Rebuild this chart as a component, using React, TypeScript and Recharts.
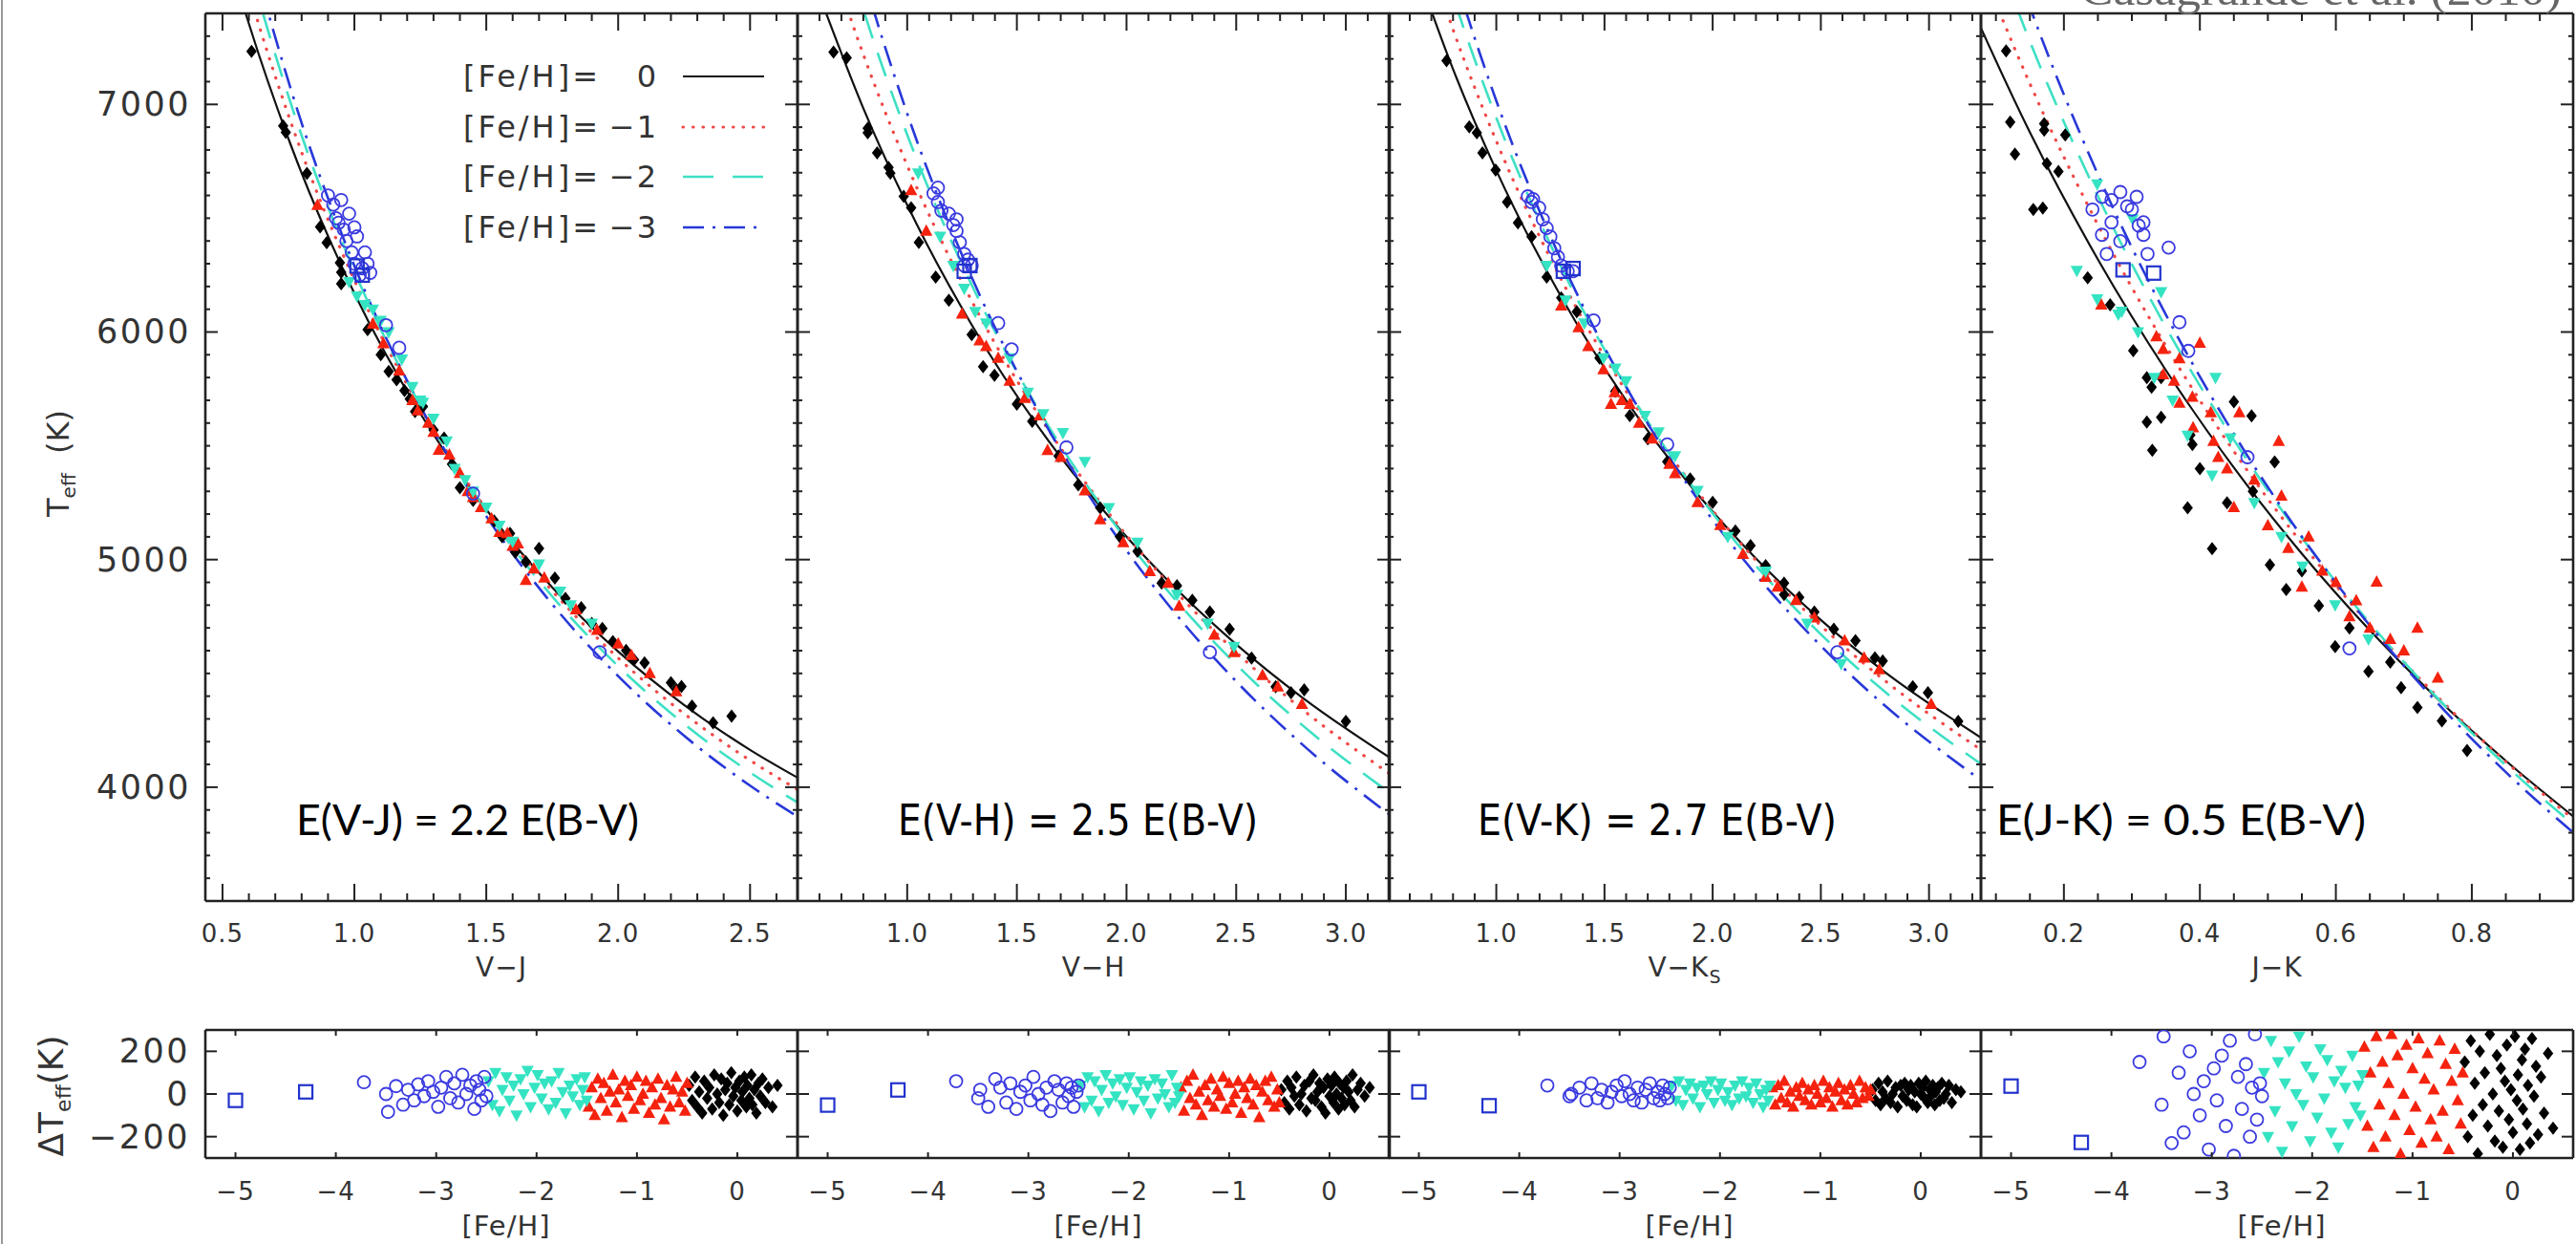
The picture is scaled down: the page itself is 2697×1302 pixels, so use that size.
import React from 'react';
import { ComposedChart, XAxis, YAxis, Line, Scatter } from 'recharts';

// ---------- fitted relations (Teff vs colour, [Fe/H] = 0, -1, -2, -3)
const vjX = [0.5, 0.6, 0.75, 1.0, 1.25, 1.5, 1.75, 2.0, 2.25, 2.5, 2.68];
const vjT0 = [7747, 7355, 6849, 6170, 5642, 5220, 4878, 4596, 4361, 4164, 4042];
const vjT1 = [7922, 7497, 6952, 6227, 5667, 5222, 4863, 4568, 4323, 4118, 3990];
const vjT2 = [8077, 7620, 7036, 6267, 5677, 5213, 4838, 4532, 4278, 4065, 3933];
const vjT3 = [8208, 7720, 7101, 6291, 5674, 5191, 4804, 4488, 4226, 4007, 3871];

const vhX = [0.6, 0.8, 1.0, 1.3, 1.6, 1.9, 2.2, 2.5, 2.8, 3.2];
const vhT0 = [7478, 6983, 6558, 6022, 5581, 5211, 4897, 4628, 4395, 4130];
const vhT1 = [7793, 7219, 6732, 6126, 5634, 5227, 4885, 4593, 4343, 4059];
const vhT2 = [8071, 7416, 6867, 6195, 5657, 5216, 4849, 4539, 4274, 3975];
const vhT3 = [8301, 7566, 6960, 6228, 5648, 5178, 4790, 4465, 4189, 3879];

const vkX = [0.6, 0.8, 1.0, 1.3, 1.6, 1.9, 2.2, 2.5, 2.8, 3.24];
const vkT0 = [7678, 7155, 6710, 6154, 5699, 5322, 5005, 4735, 4503, 4218];
const vkT1 = [7911, 7329, 6839, 6231, 5740, 5335, 4997, 4710, 4465, 4165];
const vkT2 = [8116, 7476, 6941, 6285, 5760, 5330, 4973, 4672, 4416, 4102];
const vkT3 = [8289, 7593, 7016, 6315, 5759, 5307, 4934, 4621, 4355, 4031];

const jkX = [0.05, 0.15, 0.25, 0.35, 0.45, 0.55, 0.65, 0.75, 0.85, 0.95];
const jkT0 = [7520, 6877, 6319, 5832, 5404, 5026, 4689, 4387, 4116, 3870];
const jkT1 = [7819, 7091, 6471, 5939, 5476, 5071, 4713, 4396, 4112, 3858];
const jkT2 = [8088, 7277, 6597, 6021, 5526, 5096, 4721, 4390, 4096, 3834];
const jkT3 = [8321, 7428, 6692, 6076, 5552, 5101, 4710, 4368, 4066, 3798];

// ---------- stars in the top panels: [colour, Teff]
const vjBlack = [[0.61,7233],[0.73,6906],[0.74,6877],[0.82,6697],[0.87,6462],[0.895,6392],[0.945,6304],[0.95,6262],[0.95,6212],[1.05,6010],[1.1,5900],[1.13,5827],[1.16,5790],[1.19,5743],[1.21,5706],[1.23,5650],[1.26,5672],[1.3,5570],[1.34,5534],[1.37,5420],[1.4,5316],[1.45,5260],[1.53,5170],[1.56,5100],[1.59,5115],[1.61,5032],[1.65,4990],[1.7,5049],[1.76,4919],[1.8,4830],[1.86,4789],[1.9,4720],[1.94,4697],[1.98,4640],[2.03,4601],[2.06,4560],[2.1,4546],[2.2,4459],[2.22,4430],[2.24,4442],[2.28,4356],[2.36,4283],[2.43,4312]];
const vjRed = [[0.86,6557],[1.07,6036],[1.11,5950],[1.17,5830],[1.22,5700],[1.24,5655],[1.28,5600],[1.3,5560],[1.32,5482],[1.36,5460],[1.4,5380],[1.43,5300],[1.45,5274],[1.48,5230],[1.52,5180],[1.55,5120],[1.58,5115],[1.6,5060],[1.62,5070],[1.65,4910],[1.68,4960],[1.72,4920],[1.84,4780],[1.92,4690],[2.0,4630],[2.05,4580],[2.12,4500],[2.22,4420]];
const vjCyan = [[0.98,6220],[1.01,6157],[1.04,6120],[1.07,6100],[1.1,6050],[1.13,6000],[1.18,5880],[1.22,5760],[1.25,5700],[1.26,5690],[1.3,5620],[1.35,5520],[1.38,5400],[1.42,5350],[1.45,5300],[1.5,5230],[1.55,5150],[1.6,5080],[1.7,4980],[1.78,4860],[1.82,4800],[1.9,4720]];
const vjBlue = [[0.9,6600],[0.92,6560],[0.93,6500],[0.94,6480],[0.95,6580],[0.96,6450],[0.97,6400],[0.98,6520],[0.99,6350],[1.0,6300],[1.0,6460],[1.01,6420],[1.02,6250],[1.03,6280],[1.04,6350],[1.05,6300],[1.06,6260],[1.12,6030],[1.17,5931],[1.45,5290],[1.93,4593]];
const vjSq = [[1.01,6290],[1.03,6250]];

const vhBlack = [[0.664,7230],[0.724,7205],[0.82,6875],[0.82,6895],[0.863,6787],[0.915,6723],[0.923,6698],[0.984,6596],[1.018,6546],[1.053,6394],[1.13,6241],[1.19,6140],[1.294,5988],[1.346,5848],[1.398,5810],[1.5,5683],[1.57,5607],[1.69,5455],[1.78,5328],[1.88,5227],[1.97,5100],[2.05,5037],[2.16,4897],[2.23,4885],[2.3,4821],[2.38,4770],[2.47,4694],[2.57,4567],[2.68,4441],[2.75,4415],[2.81,4428],[3.0,4289]];
const vhRed = [[1.018,6622],[1.087,6444],[1.25,6080],[1.33,5962],[1.36,5937],[1.415,5886],[1.467,5785],[1.536,5709],[1.605,5633],[1.64,5480],[1.7,5450],[1.81,5303],[1.88,5176],[1.985,5075],[2.106,4948],[2.19,4897],[2.24,4796],[2.4,4669],[2.49,4593],[2.62,4492],[2.69,4441],[2.8,4365]];
const vhCyan = [[1.05,6698],[1.15,6420],[1.21,6292],[1.26,6191],[1.31,6089],[1.36,6039],[1.467,5886],[1.55,5734],[1.62,5640],[1.71,5557],[1.81,5430],[1.92,5227],[2.05,5075],[2.23,4847],[2.37,4720],[2.49,4618]];
const vhBlue = [[1.12,6609],[1.14,6571],[1.14,6634],[1.156,6533],[1.19,6520],[1.21,6470],[1.225,6444],[1.225,6495],[1.24,6394],[1.26,6343],[1.26,6292],[1.277,6318],[1.294,6292],[1.415,6039],[1.476,5924],[1.726,5493],[2.38,4593]];
const vhSq = [[1.286,6292],[1.26,6267]];

const vkBlack = [[0.77,7192],[0.875,6901],[0.91,6875],[0.936,6787],[0.997,6711],[1.05,6571],[1.1,6480],[1.163,6419],[1.233,6241],[1.3,6150],[1.372,6089],[1.477,5886],[1.55,5740],[1.617,5633],[1.7,5531],[1.79,5430],[1.896,5354],[2.0,5252],[2.105,5126],[2.175,5062],[2.245,4973],[2.33,4897],[2.33,4847],[2.4,4834],[2.47,4770],[2.56,4694],[2.66,4644],[2.75,4568],[2.786,4555],[2.925,4441],[2.995,4415],[3.135,4289]];
const vkRed = [[1.3,6115],[1.38,6020],[1.425,5937],[1.495,5835],[1.53,5683],[1.547,5734],[1.58,5700],[1.617,5683],[1.66,5600],[1.72,5531],[1.8,5420],[1.826,5379],[1.93,5252],[2.035,5151],[2.14,5024],[2.245,4923],[2.3,4880],[2.385,4821],[2.47,4745],[2.61,4644],[2.7,4568],[2.77,4517],[3.01,4365]];
const vkCyan = [[1.233,6292],[1.32,6140],[1.407,6039],[1.495,5886],[1.55,5840],[1.6,5785],[1.687,5633],[1.75,5560],[1.826,5455],[1.93,5303],[2.07,5100],[2.245,4948],[2.437,4720],[2.594,4542]];
const vkBlue = [[1.146,6596],[1.163,6571],[1.17,6584],[1.198,6546],[1.215,6495],[1.233,6457],[1.25,6419],[1.268,6368],[1.285,6330],[1.3,6292],[1.33,6267],[1.355,6267],[1.45,6051],[1.79,5506],[2.576,4593]];
const vkSq = [[1.31,6267],[1.355,6279]];

const jkBlack = [[0.115,7235],[0.121,6922],[0.128,6782],[0.155,6538],[0.169,6545],[0.171,6915],[0.171,6887],[0.175,6740],[0.192,6705],[0.202,6866],[0.235,6238],[0.268,6120],[0.302,5918],[0.322,5799],[0.329,5757],[0.322,5604],[0.343,5625],[0.343,5799],[0.386,5548],[0.389,5506],[0.45,5694],[0.476,5632],[0.51,5429],[0.33,5480],[0.382,5228],[0.418,5048],[0.478,5300],[0.503,4977],[0.527,4869],[0.575,4797],[0.599,4618],[0.648,4509],[0.696,4437],[0.756,4291],[0.793,4161],[0.4,5400],[0.44,5250],[0.55,4950],[0.62,4700],[0.68,4550],[0.72,4350]];
const jkRed = [[0.255,6120],[0.336,5980],[0.346,5924],[0.37,5883],[0.4,5952],[0.362,5785],[0.389,5715],[0.346,5813],[0.37,5688],[0.416,5646],[0.458,5646],[0.427,5450],[0.516,5520],[0.45,5230],[0.48,5350],[0.44,5400],[0.5,5150],[0.52,5280],[0.53,5050],[0.55,4880],[0.56,5100],[0.58,4950],[0.6,4900],[0.62,4750],[0.63,4820],[0.65,4700],[0.66,4902],[0.68,4650],[0.7,4600],[0.72,4700],[0.75,4480],[0.39,5580],[0.42,5520]];
const jkCyan = [[0.219,6270],[0.249,6145],[0.249,6650],[0.285,6090],[0.301,6496],[0.309,6000],[0.333,5800],[0.343,6176],[0.382,5545],[0.418,5370],[0.423,5799],[0.445,5534],[0.551,4970],[0.599,4800],[0.648,4650],[0.28,6078],[0.36,5700],[0.48,5250],[0.52,5100]];
const jkBlue = [[0.256,6594],[0.27,6580],[0.283,6615],[0.307,6594],[0.242,6538],[0.3,6538],[0.27,6482],[0.31,6468],[0.256,6427],[0.283,6399],[0.317,6427],[0.354,6371],[0.263,6343],[0.323,6343],[0.317,6482],[0.293,6552],[0.37,6043],[0.383,5917],[0.62,4610],[0.47,5450]];
const jkSq = [[0.287,6273],[0.332,6259]];

// ---------- residuals (bottom panels): shared [Fe/H], one dTeff list per colour
const fehBlack = [-0.48,-0.45,-0.42,-0.4,-0.38,-0.35,-0.33,-0.3,-0.28,-0.25,-0.23,-0.2,-0.18,-0.16,-0.14,-0.12,-0.1,-0.08,-0.06,-0.04,-0.02,0,0.02,0.04,0.05,0.07,0.09,0.1,0.12,0.14,0.15,0.17,0.19,0.21,0.23,0.25,0.28,0.31,0.35,0.4];
const fehRed = [-1.48,-1.45,-1.42,-1.39,-1.36,-1.33,-1.3,-1.27,-1.24,-1.21,-1.18,-1.15,-1.12,-1.09,-1.06,-1.03,-1.0,-0.97,-0.94,-0.91,-0.88,-0.85,-0.82,-0.79,-0.76,-0.73,-0.7,-0.67,-0.64,-0.61,-0.58,-0.55,-0.52,-0.5];
const fehCyan = [-2.48,-2.44,-2.41,-2.37,-2.34,-2.3,-2.27,-2.23,-2.2,-2.16,-2.13,-2.09,-2.06,-2.02,-1.99,-1.95,-1.92,-1.88,-1.85,-1.81,-1.78,-1.74,-1.71,-1.67,-1.64,-1.6,-1.57,-1.54,-1.52,-1.5];
const fehBlue = [-3.72,-3.5,-3.48,-3.4,-3.33,-3.28,-3.22,-3.18,-3.12,-3.08,-3.03,-2.98,-2.95,-2.9,-2.86,-2.82,-2.78,-2.74,-2.7,-2.66,-2.62,-2.6,-2.57,-2.55,-2.52,-2.5];
const fehSq = [-5.0, -4.3];

const dVJ = {
  black: [40,-30,80,-60,10,-90,60,-20,30,-70,90,0,-40,70,-100,20,50,-50,100,-10,30,-80,60,-30,10,80,-60,40,-20,90,-50,20,-90,50,-10,70,-40,30,-60,40],
  red: [-60,30,-100,70,-20,50,-80,10,90,-40,20,-110,60,-10,40,-70,80,-30,0,60,-90,30,-50,70,-20,-120,40,-60,20,80,-40,10,-80,50],
  cyan: [60,-50,100,-80,20,80,-30,40,-100,70,0,110,-60,30,90,-20,50,-70,60,-40,100,10,-90,40,-10,70,-50,20,80,-30],
  blue: [55,0,-84,37,-50,20,-30,45,-10,60,10,-60,30,80,-20,50,-40,90,0,40,-70,60,20,-30,80,-10],
  sq: [-30, 10],
};
const dVH = {
  black: [20,-40,60,-70,30,-10,80,-50,0,40,-80,60,-20,90,-30,10,50,-60,30,-90,70,-10,40,-40,80,0,-70,50,-20,30,-50,60,10,-30,90,-60,20,50,-10,30],
  red: [30,-80,60,-20,90,-50,10,-100,40,-30,70,-60,20,-10,80,-70,50,-40,0,60,-90,30,-20,70,-50,40,-110,10,60,-30,80,-60,20,-40],
  cyan: [40,-60,80,-30,60,-80,20,90,-40,50,-10,70,-50,30,80,-70,10,60,-30,40,-90,70,-20,50,0,-60,90,-40,30,-10],
  blue: [60,-20,20,-60,70,30,-40,50,-70,10,40,-30,80,0,-50,30,-80,60,20,-40,50,-10,30,-60,10,40],
  sq: [-52, 19],
};
const dVK = {
  black: [20,-30,50,-50,10,-20,60,-40,0,30,-60,40,-10,50,-30,20,40,-50,10,-60,50,0,30,-20,60,-40,20,-10,40,-50,10,30,-30,50,-20,0,40,-40,20,10],
  red: [30,-50,40,-20,60,-40,10,-60,30,-10,50,-30,20,-50,40,0,-40,60,-20,30,-60,10,50,-30,20,-50,40,0,-40,60,-20,30,-10,20],
  cyan: [40,-30,60,-50,20,50,-20,30,-60,40,0,60,-40,20,50,-30,10,-50,40,-20,60,-10,30,-40,50,0,-60,20,-30,40],
  blue: [40,-10,0,30,-30,50,-20,20,-40,10,40,-10,60,0,-30,30,-40,20,50,-20,10,-30,40,0,-20,30],
  sq: [10, -55],
};
const dJK = {
  black: [150,-200,250,-100,50,-280,200,-50,100,-150,280,0,-220,180,-80,120,-250,60,230,-120,20,-180,270,-30,90,-260,160,-70,210,-140,40,-230,260,-10,130,-190,80,-90,190,-160],
  red: [220,-150,100,-250,270,-50,150,-200,50,280,-100,180,-280,0,230,-170,120,-60,260,-230,70,190,-120,20,-200,250,-80,140,-260,60,210,-30,-140,100],
  cyan: [100,-200,250,-80,150,-270,50,200,-150,0,270,-50,130,-220,80,-110,210,-20,160,-180,60,-250,110,30,-140,180,-60,40,-100,90],
  blue: [150,-50,270,-230,100,-180,200,0,-100,60,-260,120,-30,180,-150,250,-290,80,-70,140,-200,30,280,-120,50,-10],
  sq: [37, -227],
};

// ---------- axis ticks
const teffMajor = [4000, 5000, 6000, 7000];
const dtMajor = [-200, 0, 200];
const fehMajor = [-5, -4, -3, -2, -1, 0];
const vjMajor = [0.5, 1.0, 1.5, 2.0, 2.5];
const vhMajor = [1.0, 1.5, 2.0, 2.5, 3.0];
const vkMajor = [1.0, 1.5, 2.0, 2.5, 3.0];
const jkMajor = [0.2, 0.4, 0.6, 0.8];

const steps = (a: number, b: number, d: number) => {
  const n = Math.round((b - a) / d);
  return Array.from({ length: n + 1 }, (_, i) => +(a + i * d).toFixed(4));
};

const AX = '#222';
const TXT = '#333';
const FONT = "'DejaVu Sans', sans-serif";
const RED = '#f5220e';
const CYAN = '#34e3c2';
const BLUE = '#3b3be0';
const BLUE2 = '#2233cc';

const pts = (a: number[][]) => a.map(([x, y]) => ({ x, y }));
const curve = (xs: number[], ts: number[]) => xs.map((x, i) => ({ x, y: ts[i] }));
const resid = (fe: number[], d: number[]) => fe.map((x, i) => ({ x, y: d[i] }));

const Diamond = (p: any) => (
  <polygon points={`${p.cx},${p.cy - 7} ${p.cx + 5.5},${p.cy} ${p.cx},${p.cy + 7} ${p.cx - 5.5},${p.cy}`} fill="#000" />
);
const TriUp = (p: any) => (
  <polygon points={`${p.cx},${p.cy - 7} ${p.cx + 6.5},${p.cy + 5} ${p.cx - 6.5},${p.cy + 5}`} fill={RED} />
);
const TriDown = (p: any) => (
  <polygon points={`${p.cx},${p.cy + 7} ${p.cx + 6.5},${p.cy - 5} ${p.cx - 6.5},${p.cy - 5}`} fill={CYAN} />
);
const Ring = (p: any) => <circle cx={p.cx} cy={p.cy} r={6.5} fill="none" stroke={BLUE} strokeWidth={1.8} />;
const Box = (p: any) => (
  <rect x={p.cx - 7} y={p.cy - 7} width={14} height={14} fill="none" stroke={BLUE2} strokeWidth={2.2} />
);

type Side = 'b' | 't' | 'l' | 'r';
const tickFn = (side: Side, majors: number[], len: [number, number], fmt?: (v: number) => string, fs = 26, gap = 0, ls = 1) =>
  (p: any) => {
    const v = Number(p.payload.value);
    const isMaj = majors.some((m) => Math.abs(m - v) < 1e-6);
    const L = isMaj ? len[0] : len[1];
    const { x, y } = p;
    let x2 = x, y2 = y;
    if (side === 'b') y2 = y - L;
    else if (side === 't') y2 = y + L;
    else if (side === 'l') x2 = x + L;
    else x2 = x - L;
    return (
      <g>
        {L > 0 && <line x1={x} y1={y} x2={x2} y2={y2} stroke={AX} strokeWidth={2} />}
        {fmt && isMaj && side === 'b' && (
          <text x={x} y={y + gap} textAnchor="middle" dominantBaseline="central" fontSize={fs} fill={TXT} fontFamily={FONT} letterSpacing={ls}>{fmt(v)}</text>
        )}
        {fmt && isMaj && side === 'l' && (
          <text x={x - gap} y={y} textAnchor="end" dominantBaseline="central" fontSize={fs} fill={TXT} fontFamily={FONT} letterSpacing={ls}>{fmt(v)}</text>
        )}
      </g>
    );
  };

const fmt1 = (v: number) => v.toFixed(1);
const fmtInt = (v: number) => (v < 0 ? '\u2212' + Math.abs(v) : String(v));

type Series = { data: { x: number; y: number }[]; shape: any };
type Curve = { data: { x: number; y: number }[]; color: string; width: number; dash?: string; cap?: 'round' | 'butt' };

type PanelProps = {
  x0: number; y0: number; pw: number; ph: number; ml: number; mb: number;
  xDom: [number, number]; yDom: [number, number];
  xTicks: number[]; yTicks: number[]; xMajor: number[]; yMajor: number[];
  xLen: [number, number]; yLen: [number, number];
  xFmt: (v: number) => string; yFmt?: (v: number) => string;
  yFs: number; xGap: number; yGap: number;
  marks: Series[]; curves?: Curve[];
};

const Panel = (p: PanelProps) => {
  const mt = 6, mr = 6;
  const axisLine = { stroke: AX, strokeWidth: 2.6 };
  return (
    <div style={{ position: 'absolute', left: p.x0 - p.ml, top: p.y0 - mt }}>
      <ComposedChart width={p.ml + p.pw + mr} height={mt + p.ph + p.mb} margin={{ top: 0, right: 0, bottom: 0, left: 0 }}>
        <XAxis xAxisId="b" type="number" dataKey="x" domain={p.xDom} allowDataOverflow ticks={p.xTicks} interval={0}
          tickSize={0} tickMargin={0} tickLine={false} axisLine={axisLine} height={p.mb}
          tick={tickFn('b', p.xMajor, p.xLen, p.xFmt, 26, p.xGap, 1)} />
        <XAxis xAxisId="t" orientation="top" type="number" dataKey="x" domain={p.xDom} allowDataOverflow ticks={p.xTicks} interval={0}
          tickSize={0} tickMargin={0} tickLine={false} axisLine={axisLine} height={mt}
          tick={tickFn('t', p.xMajor, p.xLen)} />
        <YAxis yAxisId="l" type="number" dataKey="y" domain={p.yDom} allowDataOverflow ticks={p.yTicks} interval={0}
          tickSize={0} tickMargin={0} tickLine={false} axisLine={axisLine} width={p.ml}
          tick={tickFn('l', p.yMajor, p.yLen, p.yFmt, p.yFs, p.yGap, 2.5)} />
        <YAxis yAxisId="r" orientation="right" type="number" dataKey="y" domain={p.yDom} allowDataOverflow ticks={p.yTicks} interval={0}
          tickSize={0} tickMargin={0} tickLine={false} axisLine={axisLine} width={mr}
          tick={tickFn('r', p.yMajor, p.yLen)} />
        {p.marks.map((s, i) => (
          <Scatter key={'s' + i} xAxisId="b" yAxisId="l" data={s.data} dataKey="y" shape={s.shape} isAnimationActive={false} />
        ))}
        {(p.curves || []).map((c, i) => (
          <Line key={'c' + i} xAxisId="b" yAxisId="l" data={c.data} dataKey="y" type="monotone" stroke={c.color}
            strokeWidth={c.width} strokeDasharray={c.dash} strokeLinecap={c.cap || 'butt'} dot={false} activeDot={false}
            isAnimationActive={false} />
        ))}
      </ComposedChart>
    </div>
  );
};

const fitCurves = (xs: number[], t0: number[], t1: number[], t2: number[], t3: number[]): Curve[] => [
  { data: curve(xs, t0), color: '#111', width: 2.2 },
  { data: curve(xs, t1), color: '#f04848', width: 3.2, dash: '0.5 10', cap: 'round' },
  { data: curve(xs, t2), color: '#3ee0c4', width: 2.6, dash: '26 16' },
  { data: curve(xs, t3), color: '#2838d8', width: 2.6, dash: '22 9 3 9' },
];

const starMarks = (b: number[][], r: number[][], c: number[][], bl: number[][], sq: number[][]): Series[] => [
  { data: pts(b), shape: Diamond },
  { data: pts(r), shape: TriUp },
  { data: pts(c), shape: TriDown },
  { data: pts(bl), shape: Ring },
  { data: pts(sq), shape: Box },
];

const residMarks = (d: { black: number[]; red: number[]; cyan: number[]; blue: number[]; sq: number[] }): Series[] => [
  { data: resid(fehBlack, d.black), shape: Diamond },
  { data: resid(fehRed, d.red), shape: TriUp },
  { data: resid(fehCyan, d.cyan), shape: TriDown },
  { data: resid(fehBlue, d.blue), shape: Ring },
  { data: resid(fehSq, d.sq), shape: Box },
];

const PX = [215, 835, 1454, 2074];
const PW = 620;
const TOP_Y = 14, TOP_H = 929;
const BOT_Y = 1078, BOT_H = 134;

const topPanels = [
  { dom: [0.435, 2.68] as [number, number], ticks: steps(0.5, 2.6, 0.1), major: vjMajor,
    curves: fitCurves(vjX, vjT0, vjT1, vjT2, vjT3), marks: starMarks(vjBlack, vjRed, vjCyan, vjBlue, vjSq) },
  { dom: [0.5, 3.2] as [number, number], ticks: steps(0.6, 3.1, 0.1), major: vhMajor,
    curves: fitCurves(vhX, vhT0, vhT1, vhT2, vhT3), marks: starMarks(vhBlack, vhRed, vhCyan, vhBlue, vhSq) },
  { dom: [0.503, 3.24] as [number, number], ticks: steps(0.6, 3.2, 0.1), major: vkMajor,
    curves: fitCurves(vkX, vkT0, vkT1, vkT2, vkT3), marks: starMarks(vkBlack, vkRed, vkCyan, vkBlue, vkSq) },
  { dom: [0.078, 0.949] as [number, number], ticks: steps(0.1, 0.9, 0.05), major: jkMajor,
    curves: fitCurves(jkX, jkT0, jkT1, jkT2, jkT3), marks: starMarks(jkBlack, jkRed, jkCyan, jkBlue, jkSq) },
];
const botData = [dVJ, dVH, dVK, dJK];
const colourTitles = ['V\u2212J', 'V\u2212H', 'V\u2212K', 'J\u2212K'];
const notes = [
  { t: 'E(V-J) = 2.2 E(B-V)', x: 310, w: 359, f: "'Lato', sans-serif" },
  { t: 'E(V-H) = 2.5 E(B-V)', x: 940, w: 377, f: FONT },
  { t: 'E(V-K) = 2.7 E(B-V)', x: 1547, w: 376, f: FONT },
  { t: 'E(J-K) = 0.5 E(B-V)', x: 2090, w: 387, f: "'Lato', sans-serif" },
];
const legendRows = [
  { v: '0', y: 80, color: '#111', dash: undefined as string | undefined, w: 2.2, cap: 'butt' },
  { v: '\u22121', y: 133, color: '#f04848', dash: '0.5 10', w: 3.2, cap: 'round' },
  { v: '\u22122', y: 185, color: '#3ee0c4', dash: '32 20', w: 2.6, cap: 'butt' },
  { v: '\u22123', y: 238, color: '#2838d8', dash: '22 9 3 9', w: 2.6, cap: 'butt' },
];

export default function App() {
  return (
    <div style={{ position: 'absolute', left: 0, top: 0, width: 2697, height: 1302, background: '#fff', overflow: 'hidden' }}>
      {topPanels.map((tp, k) => (
        <Panel key={'top' + k} x0={PX[k]} y0={TOP_Y} pw={PW} ph={TOP_H} ml={k === 0 ? PX[0] : 6} mb={60}
          xDom={tp.dom} yDom={[3500, 7400]} xTicks={tp.ticks} yTicks={steps(3600, 7300, 100)}
          xMajor={tp.major} yMajor={teffMajor} xLen={[18, 8]} yLen={[13, 5]}
          xFmt={fmt1} yFmt={k === 0 ? String : undefined} yFs={35} xGap={34} yGap={15}
          marks={tp.marks} curves={tp.curves} />
      ))}
      {botData.map((d, k) => (
        <Panel key={'bot' + k} x0={PX[k]} y0={BOT_Y} pw={PW} ph={BOT_H} ml={k === 0 ? PX[0] : 6} mb={56}
          xDom={[-5.3, 0.6]} yDom={[-300, 300]} xTicks={fehMajor} yTicks={dtMajor}
          xMajor={fehMajor} yMajor={dtMajor} xLen={[6, 6]} yLen={[12, 12]}
          xFmt={fmtInt} yFmt={k === 0 ? fmtInt : undefined} yFs={35} xGap={35} yGap={16}
          marks={residMarks(d)} />
      ))}
      <svg width={2697} height={1302} style={{ position: 'absolute', left: 0, top: 0, pointerEvents: 'none' }}>
        <line x1={2} y1={0} x2={2} y2={1302} stroke="#999" strokeWidth={2} />
        <text x={2178} y={5} fontFamily="'Liberation Serif', serif" fontSize={46} fill="#666" textLength={504} lengthAdjust="spacingAndGlyphs">
          Casagrande et al. (2010)
        </text>
        {legendRows.map((r) => (
          <g key={r.v}>
            <text x={485} y={r.y} dominantBaseline="central" fontFamily={FONT} fontSize={32} fill={TXT} letterSpacing={3}>[Fe/H]=</text>
            <text x={689} y={r.y} dominantBaseline="central" textAnchor="end" fontFamily={FONT} fontSize={32} fill={TXT} letterSpacing={2}>{r.v}</text>
            <line x1={715} y1={r.y} x2={800} y2={r.y} stroke={r.color} strokeWidth={r.w} strokeDasharray={r.dash} strokeLinecap={r.cap as any} />
          </g>
        ))}
        {colourTitles.map((t, k) => (
          <text key={t} x={PX[k] + PW / 2} y={1022} textAnchor="middle" fontFamily={FONT} fontSize={28} fill={TXT} letterSpacing={1}>
            {t}{k === 2 && <tspan fontSize={19} dy={7}>S</tspan>}
          </text>
        ))}
        {PX.map((x, k) => (
          <text key={'fe' + k} x={x + PW / 2 + 5} y={1293} textAnchor="middle" fontFamily={FONT} fontSize={29} fill={TXT} letterSpacing={1}>[Fe/H]</text>
        ))}
        {notes.map((n) => (
          <text key={n.t} x={n.x} y={874} fontFamily={n.f} fontSize={44} fill="#000" textLength={n.w} lengthAdjust="spacingAndGlyphs">{n.t}</text>
        ))}
        <text transform="translate(72,485) rotate(-90)" textAnchor="middle" fontFamily={FONT} fontSize={32} fill={TXT}>
          T<tspan fontSize={20} dy={7}>eff</tspan><tspan dy={-7}>{'\u00a0\u00a0(K)'}</tspan>
        </text>
        <text transform="translate(66,1147) rotate(-90)" textAnchor="middle" fontFamily={FONT} fontSize={36} fill={TXT}>
          {'\u0394T'}<tspan fontSize={22} dy={8}>eff</tspan><tspan dy={-8}>(K)</tspan>
        </text>
      </svg>
    </div>
  );
}
